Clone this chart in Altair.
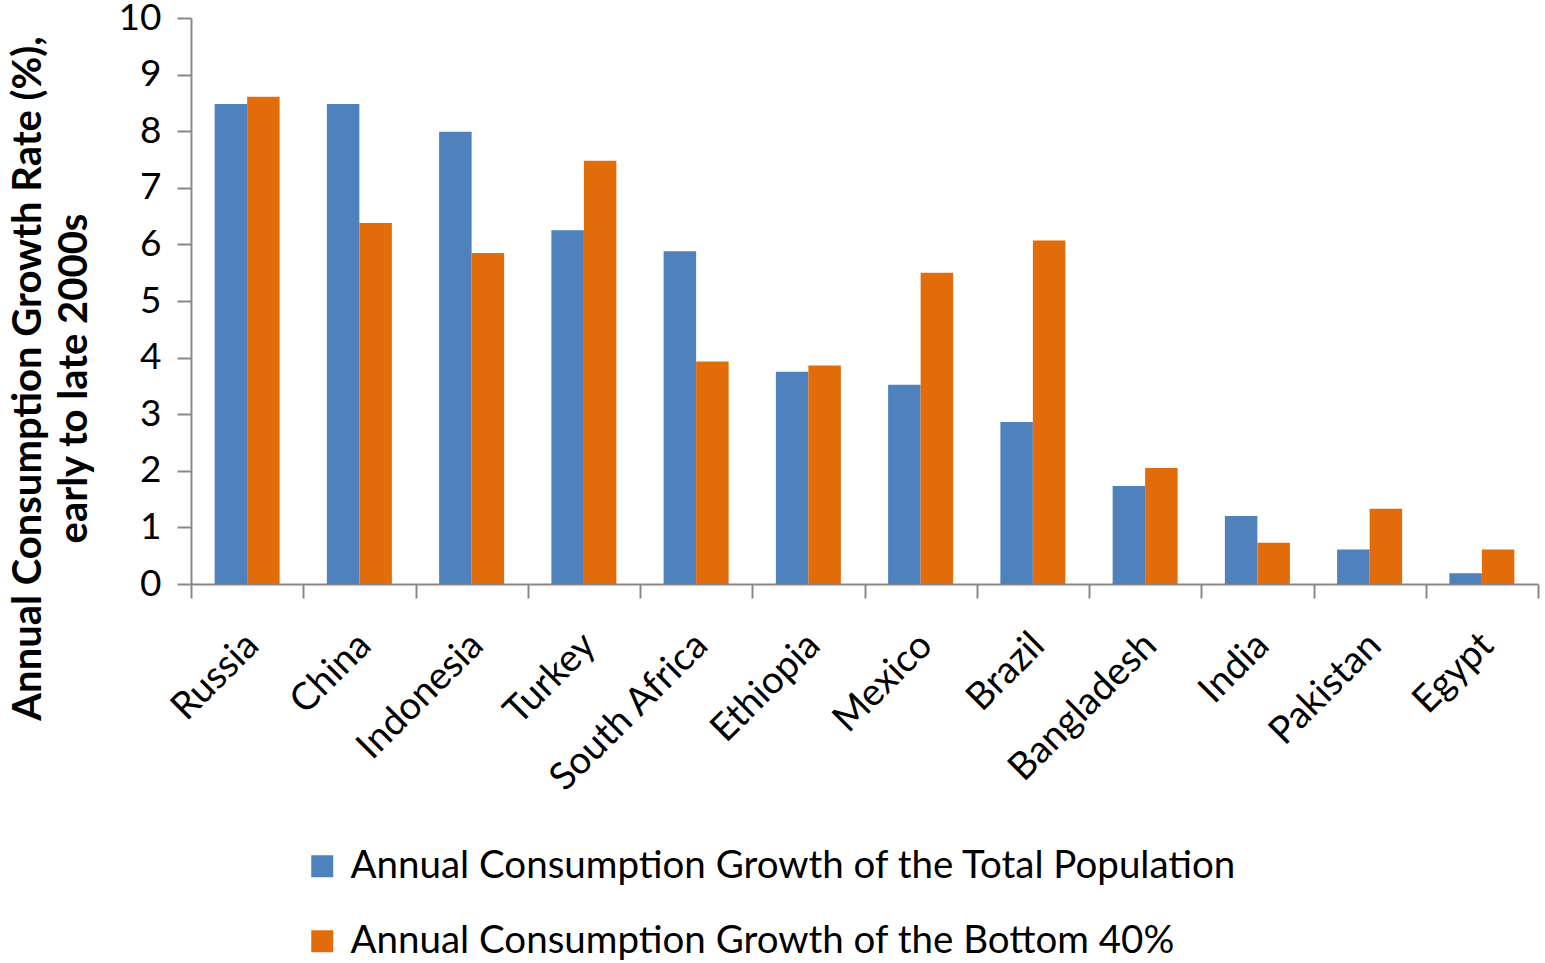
import altair as alt
import pandas as pd

countries = ["Russia", "China", "Indonesia", "Turkey", "South Africa", "Ethiopia",
             "Mexico", "Brazil", "Bangladesh", "India", "Pakistan", "Egypt"]
total_pop = [8.48, 8.48, 7.99, 6.25, 5.88, 3.75, 3.52, 2.86, 1.73, 1.20, 0.61, 0.19]
bottom_40 = [8.61, 6.38, 5.85, 7.48, 3.93, 3.86, 5.50, 6.07, 2.05, 0.73, 1.33, 0.61]
series_names = ["Annual Consumption Growth of the Total Population",
                "Annual Consumption Growth of the Bottom 40%"]
colors = ["#4F81BD", "#E36C0A"]

rows = []
for c, a, b in zip(countries, total_pop, bottom_40):
    rows.append({"country": c, "series": series_names[0], "value": a})
    rows.append({"country": c, "series": series_names[1], "value": b})
df = pd.DataFrame(rows)

FONT = "Lato"

chart = alt.Chart(df).mark_bar().encode(
    x=alt.X("country:N", sort=countries,
            scale=alt.Scale(paddingInner=0, paddingOuter=0),
            axis=alt.Axis(title=None, labelAngle=-45, labelFontSize=38, labelFont=FONT,
                          labelColor="#000000", tickBand="extent", tickSize=14,
                          tickColor="#888888", domainColor="#888888", domainWidth=2,
                          tickWidth=2, labelPadding=28, labelOffset=-8, labelLimit=400,
                          labelOverlap=False)),
    xOffset=alt.XOffset("series:N", sort=series_names,
                        scale=alt.Scale(paddingInner=0, paddingOuter=0.727)),
    y=alt.Y("value:Q", scale=alt.Scale(domain=[0, 10], nice=False),
            axis=alt.Axis(values=list(range(0, 11)), grid=False, tickSize=14,
                          tickColor="#888888", domainColor="#888888", domainWidth=2,
                          tickWidth=2, labelFontSize=37, labelFont=FONT,
                          labelColor="#000000", labelPadding=16,
                          title=["Annual Consumption  Growth Rate (%),", "early to late 2000s"],
                          titleFontSize=40, titleFont=FONT, titleFontWeight="bold",
                          titleColor="#000000", titleAngle=-90, titleAlign="center",
                          titleBaseline="top", titleX=-183, titleY=360,
                          titleLineHeight=46)),
    color=alt.Color("series:N", sort=series_names,
                    scale=alt.Scale(domain=series_names, range=colors),
                    legend=alt.Legend(title=None, orient="none", legendX=112, legendY=263 + 566,
                                      direction="vertical", symbolType="square",
                                      symbolSize=484, symbolStrokeWidth=0,
                                      labelFontSize=38.5, labelFont=FONT,
                                      labelColor="#000000", rowPadding=36,
                                      labelLimit=1300, labelOffset=9)),
).properties(
    width=1347, height=566,
    padding={"left": 191, "top": 18, "right": 7, "bottom": 379},
    autosize=alt.AutoSizeParams(type="none"),
).configure_view(stroke=None)

chart.save("out.html", embed_options={"renderer": "svg", "actions": False})
